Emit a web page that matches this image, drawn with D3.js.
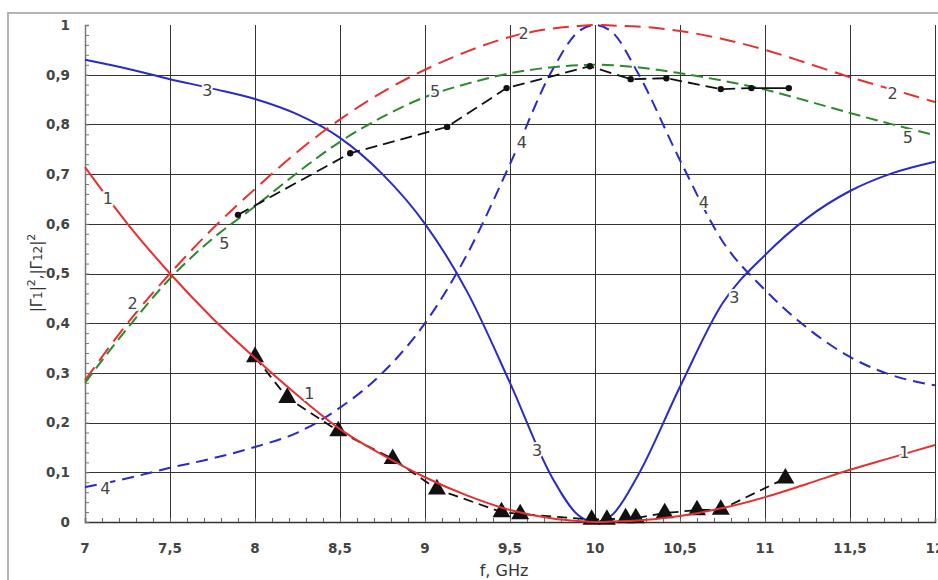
<!DOCTYPE html>
<html><head><meta charset="utf-8">
<script src="https://cdn.jsdelivr.net/npm/d3@7"></script>
<style>html,body{margin:0;padding:0;background:#fff;}svg{display:block;}</style>
</head><body>
<svg id="c" width="938" height="580"></svg>
<script>
// ---- data ----
const xTicks = [7, 7.5, 8, 8.5, 9, 9.5, 10, 10.5, 11, 11.5, 12];
const xTickLabels = ["7", "7,5", "8", "8,5", "9", "9,5", "10", "10,5", "11", "11,5", "12"];
const yTicks = [0, 0.1, 0.2, 0.3, 0.4, 0.5, 0.6, 0.7, 0.8, 0.9, 1];
const yTickLabels = ["0", "0,1", "0,2", "0,3", "0,4", "0,5", "0,6", "0,7", "0,8", "0,9", "1"];

const freq = [7, 7.25, 7.5, 7.75, 8, 8.25, 8.5, 8.75, 9, 9.25, 9.5, 9.75, 9.9, 10, 10.1, 10.25, 10.5, 10.75, 11, 11.25, 11.5, 11.75, 12];
const curve1 = [0.714, 0.600, 0.500, 0.410, 0.330, 0.255, 0.187, 0.135, 0.090, 0.053, 0.024, 0.007, 0.002, 0.000, 0.001, 0.003, 0.012, 0.028, 0.050, 0.077, 0.105, 0.130, 0.155];
const curve2 = [0.285, 0.400, 0.500, 0.590, 0.670, 0.745, 0.810, 0.865, 0.910, 0.947, 0.976, 0.993, 0.998, 1.000, 0.999, 0.997, 0.988, 0.972, 0.950, 0.923, 0.895, 0.870, 0.845];
const curve3 = [0.930, 0.912, 0.891, 0.872, 0.851, 0.820, 0.773, 0.700, 0.600, 0.462, 0.280, 0.088, 0.014, 0.000, 0.014, 0.092, 0.272, 0.440, 0.537, 0.612, 0.666, 0.702, 0.725];
const curve4 = [0.070, 0.088, 0.109, 0.128, 0.151, 0.180, 0.230, 0.300, 0.400, 0.540, 0.720, 0.910, 0.986, 1.000, 0.986, 0.905, 0.728, 0.565, 0.467, 0.390, 0.332, 0.295, 0.275];
const curve5 = [0.280, 0.390, 0.490, 0.570, 0.635, 0.703, 0.765, 0.815, 0.855, 0.882, 0.903, 0.915, 0.919, 0.920, 0.919, 0.915, 0.903, 0.888, 0.870, 0.847, 0.823, 0.800, 0.778];

const measFreq = [7.9, 8.56, 9.13, 9.48, 9.97, 10.21, 10.42, 10.74, 10.92, 11.14];
const measVal  = [0.618, 0.742, 0.795, 0.873, 0.917, 0.891, 0.893, 0.871, 0.873, 0.873];

const triFreq = [8.0, 8.19, 8.49, 8.81, 9.07, 9.45, 9.56, 9.98, 10.07, 10.18, 10.24, 10.41, 10.6, 10.74, 11.12];
const triVal  = [0.332, 0.250, 0.183, 0.127, 0.066, 0.020, 0.016, 0.005, 0.005, 0.008, 0.008, 0.018, 0.024, 0.025, 0.088];

const labelText = ["1", "1", "1", "2", "2", "2", "3", "3", "3", "4", "4", "4", "5", "5", "5"];
const labelX    = [7.135, 8.32, 11.82, 9.58, 11.75, 7.28, 7.72, 9.66, 10.82, 7.12, 9.57, 10.64, 9.06, 11.84, 7.82];
const labelY    = [0.652, 0.260, 0.141, 0.984, 0.863, 0.440, 0.869, 0.145, 0.453, 0.068, 0.765, 0.644, 0.867, 0.775, 0.561];

// ---- drawing ----
const svg = d3.select("#c");
const x = d3.scaleLinear().domain([7, 12]).range([85, 935]);
const y = d3.scaleLinear().domain([0, 1]).range([522, 25]);

const RED = "#e63030", BLUE = "#2a2ac8", GREEN = "#2b8a2b", BLACK = "#111";

// outer frame
svg.append("rect").attr("x", 8).attr("y", 13).attr("width", 960).attr("height", 600)
  .attr("fill", "none").attr("stroke", "#b4b4b4").attr("stroke-width", 2);

// grid
const grid = svg.append("g").attr("stroke", "#333").attr("stroke-width", 1).attr("shape-rendering", "crispEdges");
grid.selectAll("line.v").data(xTicks.slice(1)).join("line")
  .attr("x1", d => x(d) + 0.5).attr("x2", d => x(d) + 0.5).attr("y1", y(1)).attr("y2", y(0));
grid.selectAll("line.h").data(yTicks.slice(1, -1)).join("line")
  .attr("x1", x(7)).attr("x2", x(12)).attr("y1", d => y(d) + 0.5).attr("y2", d => y(d) + 0.5);

// axes
const xAxis = d3.axisBottom(x).tickValues(d3.range(7, 12.001, 0.1)).tickSize(-4).tickFormat("");
const gx = svg.append("g").attr("transform", `translate(0,${y(0)})`).call(xAxis);
gx.select(".domain").attr("stroke", "#333").attr("stroke-width", 1.5);
gx.selectAll(".tick line").attr("stroke", "#666");
const yAxis = d3.axisLeft(y).tickValues(d3.range(0, 1.0001, 0.02)).tickSize(-4).tickFormat("");
const gy = svg.append("g").attr("transform", `translate(${x(7)},0)`).call(yAxis);
gy.select(".domain").attr("stroke", "#777").attr("stroke-width", 1.5);
gy.selectAll(".tick line").attr("stroke", "#777");

// tick labels
svg.append("g").selectAll("text").data(xTicks).join("text")
  .attr("x", d => x(d)).attr("y", 553).attr("text-anchor", "middle")
  .attr("font-family", "DejaVu Sans").attr("font-weight", "bold").attr("font-size", 13.5)
  .attr("fill", "#444").text((d, i) => xTickLabels[i]);
svg.append("g").selectAll("text").data(yTicks).join("text")
  .attr("x", 70).attr("y", d => y(d)).attr("dy", "0.36em").attr("text-anchor", "end")
  .attr("font-family", "DejaVu Sans").attr("font-weight", "bold").attr("font-size", 13.5)
  .attr("fill", "#444").text((d, i) => yTickLabels[i]);

// axis titles
svg.append("text").attr("x", 504).attr("y", 576).attr("text-anchor", "middle")
  .attr("font-family", "DejaVu Sans").attr("font-size", 16).attr("fill", "#333").text("f, GHz");
const yt = svg.append("text").attr("transform", "translate(42,273) rotate(-90)").attr("text-anchor", "middle")
  .attr("font-family", "DejaVu Sans").attr("font-size", 15).attr("fill", "#333");
yt.append("tspan").text("|Γ");
yt.append("tspan").attr("font-size", 12).text("1");
yt.append("tspan").text("|");
yt.append("tspan").attr("font-size", 11).attr("dy", -7).text("2");
yt.append("tspan").attr("dy", 7).text(",|Γ");
yt.append("tspan").attr("font-size", 12).text("12");
yt.append("tspan").text("|");
yt.append("tspan").attr("font-size", 11).attr("dy", -7).text("2");

// curves
const line = d3.line().x(d => x(d[0])).y(d => y(d[1])).curve(d3.curveMonotoneX);
const lin = d3.line().x(d => x(d[0])).y(d => y(d[1]));
const zip = (a, b) => a.map((v, i) => [v, b[i]]);

function drawCurve(vals, color, dash) {
  svg.append("path").datum(zip(freq, vals)).attr("d", line)
    .attr("fill", "none").attr("stroke", color).attr("stroke-width", 2)
    .attr("stroke-dasharray", dash || null);
}
drawCurve(curve4, BLUE, "12,7");
drawCurve(curve3, BLUE, null);
drawCurve(curve2, RED, "16,8");
drawCurve(curve5, GREEN, "12,6");

// measured (black dashed with dots)
const meas = zip(measFreq, measVal);
svg.append("path").datum(meas.slice(0, 9)).attr("d", lin).attr("fill", "none")
  .attr("stroke", BLACK).attr("stroke-width", 1.8).attr("stroke-dasharray", "12,6");
svg.append("path").datum(meas.slice(8)).attr("d", lin).attr("fill", "none")
  .attr("stroke", BLACK).attr("stroke-width", 1.8);
svg.append("g").selectAll("circle").data(meas).join("circle")
  .attr("cx", d => x(d[0])).attr("cy", d => y(d[1])).attr("r", 3.2).attr("fill", BLACK);

// triangles
const tri = zip(triFreq, triVal);
svg.append("path").datum(tri).attr("d", lin).attr("fill", "none")
  .attr("stroke", BLACK).attr("stroke-width", 1.8).attr("stroke-dasharray", "10,6");
svg.append("g").selectAll("path").data(tri).join("path")
  .attr("transform", d => `translate(${x(d[0])},${y(d[1])})`)
  .attr("d", d3.symbol(d3.symbolTriangle, 140)).attr("fill", BLACK);

drawCurve(curve1, RED, null);

// curve labels
svg.append("g").selectAll("text").data(labelText).join("text")
  .attr("x", (d, i) => x(labelX[i])).attr("y", (d, i) => y(labelY[i])).attr("dy", "0.36em")
  .attr("text-anchor", "middle").attr("font-family", "DejaVu Sans").attr("font-size", 16)
  .attr("fill", "#444").attr("stroke", "#fff").attr("stroke-width", 4).attr("paint-order", "stroke")
  .text(d => d);
</script>
</body></html>
